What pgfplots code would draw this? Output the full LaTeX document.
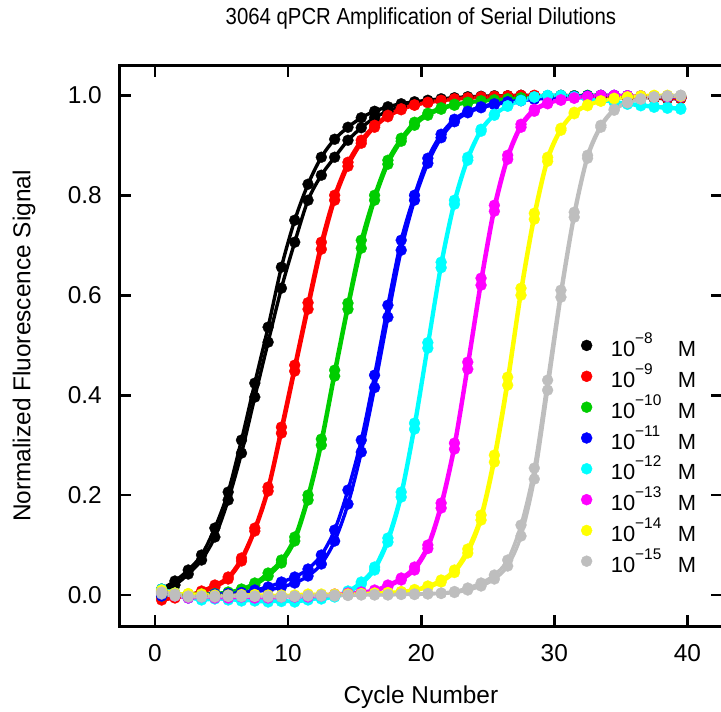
\documentclass[border=0pt]{standalone}
\usepackage{graphicx}
\usepackage{fontspec}
\setmainfont{Liberation Sans}
\usepackage{pgfplots}
\usepackage{pgfplotstable}
\pgfplotsset{compat=1.18}
\definecolor{rblack}{RGB}{0,0,0}
\definecolor{rred}{RGB}{255,0,0}
\definecolor{rgreen}{RGB}{0,205,0}
\definecolor{rblue}{RGB}{0,0,255}
\definecolor{rcyan}{RGB}{0,255,255}
\definecolor{rmagenta}{RGB}{255,0,255}
\definecolor{ryellow}{RGB}{255,255,0}
\definecolor{rgray}{RGB}{190,190,190}

\pgfplotstableread{
x a b
0.5 0.012 0.008
1.5 0.028 0.020
2.5 0.050 0.042
3.5 0.080 0.070
4.5 0.134 0.116
5.5 0.206 0.190
6.5 0.310 0.284
7.5 0.424 0.396
8.5 0.536 0.506
9.5 0.656 0.614
10.5 0.750 0.706
11.5 0.822 0.790
12.5 0.876 0.840
13.5 0.912 0.876
14.5 0.936 0.910
15.5 0.955 0.935
16.5 0.968 0.955
17.5 0.977 0.968
18.5 0.983 0.977
19.5 0.987 0.983
20.5 0.990 0.987
21.5 0.993 0.990
22.5 0.995 0.993
23.5 0.997 0.995
24.5 0.998 0.996
25.5 0.999 0.997
26.5 0.999 0.998
27.5 1.000 0.998
28.5 0.999 0.999
29.5 0.998 0.999
30.5 0.998 1.000
31.5 0.997 0.999
32.5 0.996 0.999
33.5 0.996 0.998
34.5 0.995 0.998
35.5 0.995 0.997
36.5 0.994 0.997
37.5 0.994 0.996
38.5 0.993 0.996
39.5 0.993 0.995
}\tabblack

\pgfplotstableread{
x a b
0.5 -0.010 -0.006
1.5 -0.006 -0.004
2.5 0.000 -0.001
3.5 0.008 0.005
4.5 0.020 0.016
5.5 0.036 0.032
6.5 0.074 0.068
7.5 0.134 0.128
8.5 0.216 0.208
9.5 0.336 0.324
10.5 0.460 0.448
11.5 0.585 0.572
12.5 0.706 0.692
13.5 0.800 0.790
14.5 0.866 0.858
15.5 0.910 0.904
16.5 0.940 0.936
17.5 0.960 0.957
18.5 0.973 0.971
19.5 0.981 0.980
20.5 0.986 0.985
21.5 0.990 0.989
22.5 0.993 0.992
23.5 0.995 0.994
24.5 0.997 0.996
25.5 0.998 0.997
26.5 0.999 0.998
27.5 1.000 0.999
28.5 0.999 1.000
29.5 0.999 0.999
30.5 0.998 0.999
31.5 0.998 0.998
32.5 0.997 0.998
33.5 0.997 0.997
34.5 0.996 0.997
35.5 0.996 0.996
36.5 0.995 0.996
37.5 0.995 0.995
38.5 0.994 0.995
39.5 0.994 0.994
}\tabred

\pgfplotstableread{
x a b
0.5 0.002 -0.002
1.5 0.000 0.001
2.5 0.002 0.000
3.5 0.001 0.002
4.5 0.003 0.002
5.5 0.006 0.004
6.5 0.012 0.010
7.5 0.024 0.020
8.5 0.044 0.038
9.5 0.070 0.064
10.5 0.116 0.108
11.5 0.200 0.190
12.5 0.312 0.300
13.5 0.450 0.438
14.5 0.584 0.572
15.5 0.710 0.694
16.5 0.800 0.790
17.5 0.870 0.862
18.5 0.914 0.908
19.5 0.946 0.940
20.5 0.964 0.960
21.5 0.975 0.972
22.5 0.982 0.980
23.5 0.986 0.985
24.5 0.989 0.988
25.5 0.991 0.990
26.5 0.993 0.992
27.5 0.995 0.994
28.5 0.996 0.995
29.5 0.997 0.996
30.5 0.998 0.997
31.5 0.999 0.998
32.5 1.000 0.999
33.5 0.999 1.000
34.5 0.999 0.999
35.5 0.998 0.999
36.5 0.998 0.998
37.5 0.997 0.998
38.5 0.997 0.997
39.5 0.996 0.997
}\tabgreen

\pgfplotstableread{
x a b
0.5 0.004 -0.002
1.5 0.000 0.003
2.5 -0.004 -0.006
3.5 0.000 -0.003
4.5 0.002 0.000
5.5 0.003 0.001
6.5 0.005 0.003
7.5 0.010 0.007
8.5 0.016 0.010
9.5 0.026 0.016
10.5 0.036 0.024
11.5 0.052 0.038
12.5 0.080 0.062
13.5 0.130 0.108
14.5 0.210 0.182
15.5 0.310 0.286
16.5 0.440 0.415
17.5 0.580 0.556
18.5 0.710 0.690
19.5 0.800 0.790
20.5 0.874 0.864
21.5 0.922 0.915
22.5 0.952 0.947
23.5 0.968 0.965
24.5 0.977 0.975
25.5 0.983 0.981
26.5 0.987 0.986
27.5 0.990 0.989
28.5 0.993 0.992
29.5 0.995 0.994
30.5 0.997 0.996
31.5 0.998 0.997
32.5 0.999 0.998
33.5 1.000 0.999
34.5 0.999 1.000
35.5 0.999 0.999
36.5 0.998 0.999
37.5 0.998 0.998
38.5 0.997 0.998
39.5 0.997 0.997
}\tabblue

\pgfplotstableread{
x a b
0.5 0.012 0.008
1.5 0.004 0.000
2.5 -0.006 -0.004
3.5 -0.008 -0.010
4.5 -0.006 -0.008
5.5 -0.010 -0.008
6.5 -0.008 -0.012
7.5 -0.012 -0.010
8.5 -0.014 -0.012
9.5 -0.010 -0.013
10.5 -0.014 -0.012
11.5 -0.010 -0.008
12.5 -0.006 -0.008
13.5 -0.002 -0.004
14.5 0.008 0.005
15.5 0.026 0.022
16.5 0.056 0.050
17.5 0.114 0.106
18.5 0.206 0.196
19.5 0.344 0.332
20.5 0.505 0.494
21.5 0.666 0.655
22.5 0.790 0.782
23.5 0.876 0.870
24.5 0.932 0.928
25.5 0.962 0.960
26.5 0.979 0.978
27.5 0.990 0.989
28.5 0.997 0.996
29.5 1.000 0.999
30.5 0.999 1.000
31.5 0.996 0.997
32.5 0.993 0.994
33.5 0.990 0.990
34.5 0.987 0.986
35.5 0.984 0.982
36.5 0.981 0.979
37.5 0.978 0.976
38.5 0.976 0.974
39.5 0.974 0.972
}\tabcyan

\pgfplotstableread{
x a b
0.5 0.008 0.004
1.5 0.002 -0.002
2.5 -0.004 -0.006
3.5 -0.002 -0.004
4.5 -0.006 -0.004
5.5 -0.004 -0.006
6.5 -0.002 -0.004
7.5 -0.006 -0.003
8.5 -0.004 -0.006
9.5 -0.002 -0.004
10.5 -0.004 -0.002
11.5 -0.002 -0.004
12.5 0.000 -0.002
13.5 0.002 0.000
14.5 0.004 0.003
15.5 0.006 0.005
16.5 0.010 0.008
17.5 0.020 0.017
18.5 0.034 0.030
19.5 0.056 0.050
20.5 0.100 0.093
21.5 0.184 0.174
22.5 0.304 0.292
23.5 0.466 0.452
24.5 0.634 0.620
25.5 0.780 0.768
26.5 0.880 0.872
27.5 0.942 0.936
28.5 0.972 0.968
29.5 0.985 0.983
30.5 0.991 0.990
31.5 0.995 0.994
32.5 0.998 0.997
33.5 1.000 0.999
34.5 0.999 1.000
35.5 0.999 0.999
36.5 0.998 0.999
37.5 0.998 0.998
38.5 0.997 0.998
39.5 0.997 0.997
}\tabmagenta

\pgfplotstableread{
x a b
0.5 0.010 0.006
1.5 0.004 0.002
2.5 0.000 0.003
3.5 0.002 0.000
4.5 -0.002 0.000
5.5 0.000 -0.002
6.5 -0.002 0.001
7.5 0.001 -0.001
8.5 -0.002 0.000
9.5 0.000 -0.002
10.5 -0.002 0.000
11.5 0.000 0.002
12.5 0.002 0.000
13.5 0.000 0.002
14.5 0.002 0.001
15.5 0.003 0.002
16.5 0.004 0.003
17.5 0.005 0.004
18.5 0.007 0.006
19.5 0.011 0.009
20.5 0.018 0.015
21.5 0.030 0.026
22.5 0.050 0.045
23.5 0.092 0.084
24.5 0.160 0.150
25.5 0.280 0.266
26.5 0.436 0.420
27.5 0.614 0.600
28.5 0.764 0.752
29.5 0.876 0.868
30.5 0.934 0.930
31.5 0.966 0.963
32.5 0.981 0.979
33.5 0.989 0.988
34.5 0.994 0.993
35.5 0.997 0.996
36.5 0.999 0.998
37.5 1.000 0.999
38.5 0.999 1.000
39.5 0.998 0.999
}\tabyellow

\pgfplotstableread{
x a b
0.5 0.006 0.002
1.5 0.002 -0.002
2.5 -0.002 -0.004
3.5 -0.004 -0.002
4.5 -0.002 -0.004
5.5 -0.003 -0.001
6.5 -0.001 -0.003
7.5 -0.003 -0.002
8.5 -0.002 -0.004
9.5 -0.004 -0.002
10.5 -0.002 -0.003
11.5 -0.001 -0.002
12.5 0.000 -0.002
13.5 -0.002 0.000
14.5 0.000 -0.001
15.5 0.001 0.000
16.5 0.000 0.001
17.5 0.001 0.000
18.5 0.002 0.001
19.5 0.002 0.001
20.5 0.003 0.002
21.5 0.004 0.003
22.5 0.007 0.005
23.5 0.014 0.010
24.5 0.024 0.018
25.5 0.040 0.032
26.5 0.070 0.058
27.5 0.140 0.118
28.5 0.254 0.232
29.5 0.430 0.410
30.5 0.610 0.596
31.5 0.766 0.756
32.5 0.880 0.874
33.5 0.940 0.936
34.5 0.972 0.970
35.5 0.986 0.985
36.5 0.993 0.992
37.5 0.997 0.996
38.5 0.999 0.998
39.5 1.000 1.000
}\tabgray

\newcommand{\lgd}[1]{\makebox[67bp][l]{10\raisebox{13bp}{\fontsize{15.5}{17}\selectfont −#1}}M}

\begin{document}
\begin{tikzpicture}[x=1bp,y=1bp]
\useasboundingbox (0,0) rectangle (721,712);
\begin{axis}[
  at={(119.3bp,85.3bp)}, anchor=south west,
  scale only axis, width=603.2bp, height=561.4bp,
  xmin=-2.68, xmax=42.64, ymin=-0.0634, ymax=1.06,
  xtick={0,10,20,30,40},
  ytick={0,0.2,0.4,0.6,0.8,1.0},
  /pgf/number format/assume math mode=true,
  y tick label style={/pgf/number format/fixed, /pgf/number format/fixed zerofill, /pgf/number format/precision=1, xshift=-14bp},
  x tick label style={yshift=-14bp},
  tick label style={font=\fontsize{24.5}{29}\selectfont},
  tick align=inside, major tick length=12bp,
  every tick/.style={black, line width=2.8bp},
  axis line style={line width=3bp},
  title={\scalebox{0.877}[1]{3064 qPCR Amplification of Serial Dilutions}},
  title style={at={(axis description cs:0.5,1)}, anchor=base, yshift=35bp, font=\fontsize{23.3}{28}\selectfont},
  xlabel={Cycle Number},
  xlabel style={at={(axis description cs:0.5,0)}, anchor=base, yshift=-77bp, font=\fontsize{24.5}{29}\selectfont},
  ylabel={Normalized Fluorescence Signal},
  ylabel style={at={(axis description cs:0,0.5)}, anchor=base, yshift=89bp, font=\fontsize{24.5}{29}\selectfont},
  legend image code/.code={\fill[#1] (0bp,0bp) circle (5.5bp);},
  legend cell align=left,
  legend style={at={(0.7653,0.5235)}, anchor=north west, draw=none, fill=none,
    inner sep=0pt, outer sep=0pt, row sep=5.6bp, column sep=18.5bp,
    nodes={inner sep=0pt}, font=\fontsize{22}{26}\selectfont},
  rep/.style={line width=3.4bp, smooth, mark=*, mark size=5.5bp, mark options={line width=0.3bp, solid}, forget plot},
]
\addlegendimage{rblack}\addlegendentry{\lgd{8}}
\addlegendimage{rred}\addlegendentry{\lgd{9}}
\addlegendimage{rgreen}\addlegendentry{\lgd{10}}
\addlegendimage{rblue}\addlegendentry{\lgd{11}}
\addlegendimage{rcyan}\addlegendentry{\lgd{12}}
\addlegendimage{rmagenta}\addlegendentry{\lgd{13}}
\addlegendimage{ryellow}\addlegendentry{\lgd{14}}
\addlegendimage{rgray}\addlegendentry{\lgd{15}}

\addplot[rep, rblack] table[x=x, y=a]{\tabblack};
\addplot[rep, rblack] table[x=x, y=b]{\tabblack};
\addplot[rep, rred] table[x=x, y=a]{\tabred};
\addplot[rep, rred] table[x=x, y=b]{\tabred};
\addplot[rep, rgreen] table[x=x, y=a]{\tabgreen};
\addplot[rep, rgreen] table[x=x, y=b]{\tabgreen};
\addplot[rep, rblue] table[x=x, y=a]{\tabblue};
\addplot[rep, rblue] table[x=x, y=b]{\tabblue};
\addplot[rep, rcyan] table[x=x, y=a]{\tabcyan};
\addplot[rep, rcyan] table[x=x, y=b]{\tabcyan};
\addplot[rep, rmagenta] table[x=x, y=a]{\tabmagenta};
\addplot[rep, rmagenta] table[x=x, y=b]{\tabmagenta};
\addplot[rep, ryellow] table[x=x, y=a]{\tabyellow};
\addplot[rep, ryellow] table[x=x, y=b]{\tabyellow};
\addplot[rep, rgray] table[x=x, y=a]{\tabgray};
\addplot[rep, rgray] table[x=x, y=b]{\tabgray};
\end{axis}
\end{tikzpicture}
\end{document}
